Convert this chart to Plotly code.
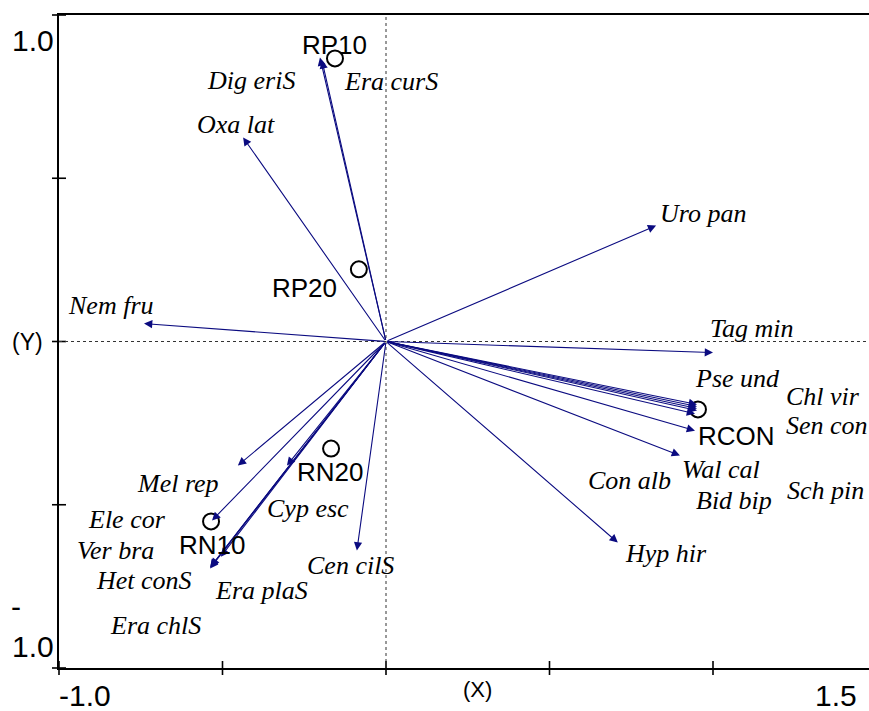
import plotly.graph_objects as go

# Species scores (arrow tips)
species = ["Dig eriS", "Era curS", "Oxa lat", "Uro pan", "Tag min", "Nem fru",
           "Pse und", "Chl vir", "Sen con", "Sch pin", "Con alb", "Bid bip",
           "Wal cal", "Hyp hir", "Mel rep", "Ele cor", "Cyp esc", "Era plaS",
           "Ver bra", "Het conS", "Era chlS", "Cen cilS"]
species_x = [-0.202, -0.196, -0.437, 0.826, 1.000, -0.740,
             0.951, 0.951, 0.951, 0.951, 0.945, 0.945,
             0.899, 0.709, -0.453, -0.532, -0.303, -0.505,
             -0.538, -0.538, -0.535, -0.089]
species_y = [0.870, 0.861, 0.625, 0.355, -0.034, 0.055,
             -0.193, -0.199, -0.205, -0.211, -0.221, -0.273,
             -0.349, -0.616, -0.380, -0.548, -0.380, -0.659,
             -0.692, -0.695, -0.689, -0.640]

# Sample scores
samples = ["RP10", "RP20", "RCON", "RN20", "RN10"]
sample_x = [-0.156, -0.083, 0.954, -0.168, -0.535]
sample_y = [0.867, 0.221, -0.208, -0.328, -0.551]

# Axis ticks
x_ticks = [-1.0, -0.5, 0.0, 0.5, 1.0]
y_ticks = [-1.0, -0.5, 0.0, 0.5, 1.0]

# Label placement (data coordinates), offset from the points to avoid overlaps
species_label_pos = {
    "Dig eriS": (-0.413, 0.799), "Era curS": (0.015, 0.796), "Oxa lat": (-0.459, 0.665),
    "Uro pan": (0.969, 0.392), "Tag min": (1.119, 0.040), "Nem fru": (-0.841, 0.110),
    "Pse und": (1.076, -0.113), "Chl vir": (1.336, -0.168), "Sen con": (1.349, -0.257),
    "Wal cal": (1.024, -0.392), "Con alb": (0.746, -0.426), "Bid bip": (1.064, -0.487),
    "Sch pin": (1.343, -0.456), "Hyp hir": (0.856, -0.649), "Mel rep": (-0.636, -0.435),
    "Ele cor": (-0.792, -0.545), "Ver bra": (-0.826, -0.640), "Het conS": (-0.740, -0.732),
    "Era plaS": (-0.382, -0.763), "Era chlS": (-0.706, -0.870), "Cyp esc": (-0.239, -0.511),
    "Cen cilS": (-0.110, -0.686),
}
sample_label_pos = {
    "RP10": (-0.159, 0.907), "RP20": (-0.248, 0.165), "RCON": (1.073, -0.288),
    "RN20": (-0.171, -0.401), "RN10": (-0.532, -0.622),
}

ARROW = "#0b0b80"
SANS = "Liberation Sans, Arial, sans-serif"
SERIF = "Liberation Serif, Times New Roman, serif"

fig = go.Figure()

# Dotted reference lines through the origin
fig.add_shape(type="line", x0=-1.0, x1=1.5, y0=0, y1=0, xref="x", yref="y",
              line=dict(color="#333333", width=1, dash="dot"))
fig.add_shape(type="line", x0=0, x1=0, y0=-1.0, y1=1.0, xref="x", yref="y",
              line=dict(color="#333333", width=1, dash="dot"))

# Species arrows
annotations = []
for name, sx, sy in zip(species, species_x, species_y):
    annotations.append(dict(
        x=sx, y=sy, ax=0, ay=0, xref="x", yref="y", axref="x", ayref="y",
        text="", showarrow=True, arrowhead=2, arrowsize=1.5, arrowwidth=1.1,
        arrowcolor=ARROW, standoff=0,
    ))

# Species labels
for name in species:
    lx, ly = species_label_pos[name]
    annotations.append(dict(
        x=lx, y=ly, xref="x", yref="y", text="<i>%s</i>" % name, showarrow=False,
        font=dict(family=SERIF, size=26, color="black"),
        xanchor="center", yanchor="middle",
    ))

# Sample labels
for name in samples:
    lx, ly = sample_label_pos[name]
    annotations.append(dict(
        x=lx, y=ly, xref="x", yref="y", text=name, showarrow=False,
        font=dict(family=SANS, size=26, color="black"),
        xanchor="center", yanchor="middle",
    ))

# Sample points
fig.add_trace(go.Scatter(
    x=sample_x, y=sample_y, mode="markers", cliponaxis=False,
    marker=dict(symbol="circle-open", size=16, color="black", line=dict(width=2, color="black")),
    hoverinfo="text", text=samples, showlegend=False,
))

# Cross tick marks on the left and bottom axes
fig.add_trace(go.Scatter(
    x=[-1.0] * len(y_ticks), y=y_ticks, mode="markers", cliponaxis=False,
    marker=dict(symbol="line-ew-open", size=10, color="black",
                line=dict(width=1.6, color="black")),
    hoverinfo="skip", showlegend=False,
))
fig.add_trace(go.Scatter(
    x=x_ticks, y=[-1.0] * len(x_ticks), mode="markers", cliponaxis=False,
    marker=dict(symbol="line-ns-open", size=10, color="black",
                line=dict(width=1.6, color="black")),
    hoverinfo="skip", showlegend=False,
))

# Axis end labels
annotations += [
    dict(x=0, xref="paper", y=1.0, yref="y", text="1.0", showarrow=False,
         xanchor="right", yanchor="middle", xshift=-3, yshift=-25,
         font=dict(family=SANS, size=30, color="black")),
    dict(x=0, xref="paper", y=-1.0, yref="y", text="-", showarrow=False,
         xanchor="center", yanchor="middle", xshift=-43, yshift=62,
         font=dict(family=SANS, size=30, color="black")),
    dict(x=0, xref="paper", y=-1.0, yref="y", text="1.0", showarrow=False,
         xanchor="right", yanchor="middle", xshift=-3, yshift=22,
         font=dict(family=SANS, size=30, color="black")),
    dict(x=0, xref="paper", y=0.0, yref="y", text="(Y)", showarrow=False,
         xanchor="center", yanchor="middle", xshift=-32, yshift=0,
         font=dict(family=SANS, size=23, color="black")),
    dict(x=0, xref="paper", y=0, yref="paper", text="-1.0", showarrow=False,
         xanchor="left", yanchor="middle", xshift=-2, yshift=-27,
         font=dict(family=SANS, size=30, color="black")),
    dict(x=1, xref="paper", y=0, yref="paper", text="1.5", showarrow=False,
         xanchor="right", yanchor="middle", xshift=-10, yshift=-27,
         font=dict(family=SANS, size=30, color="black")),
    dict(x=0.28, xref="x", y=0, yref="paper", text="(X)", showarrow=False,
         xanchor="center", yanchor="middle", yshift=-21,
         font=dict(family=SANS, size=22, color="black")),
]

W, H = 869, 711
L, T, B = 59, 15, 43
x_max = -1.0 + (W - L) / 327.0

fig.update_layout(
    width=W, height=H,
    margin=dict(l=L, r=0, t=T, b=B),
    paper_bgcolor="white", plot_bgcolor="white",
    showlegend=False,
    annotations=annotations,
    xaxis=dict(range=[-1.0, x_max], showgrid=False, zeroline=False,
               showticklabels=False, ticks="", showline=True, linecolor="black",
               linewidth=2, mirror=True),
    yaxis=dict(range=[-1.0, 1.0], showgrid=False, zeroline=False,
               showticklabels=False, ticks="", showline=True, linecolor="black",
               linewidth=2, mirror=False),
)

fig.write_html("out.html")
